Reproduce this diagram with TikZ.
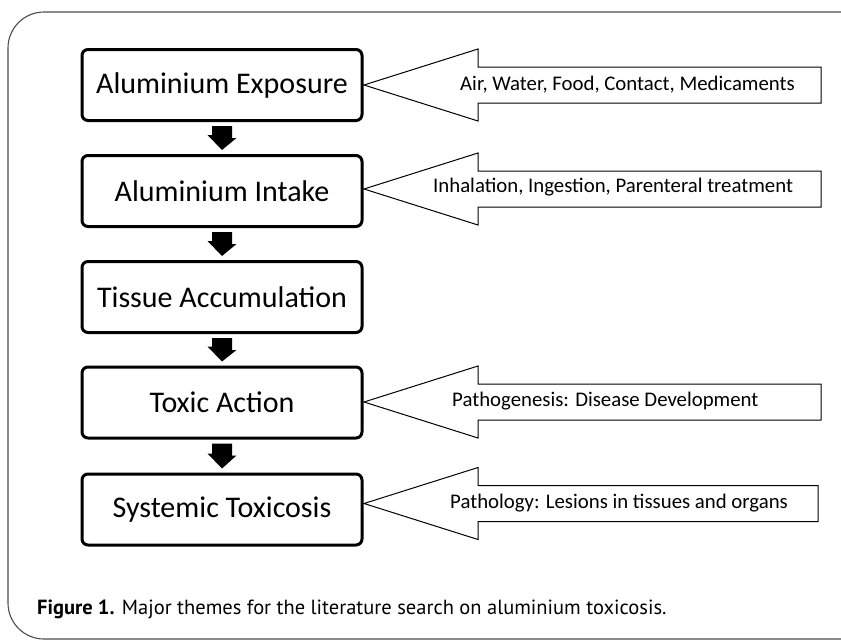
\documentclass[tikz,border=0pt]{standalone}
\usepackage{fontspec}
\setmainfont{Carlito}
\newfontfamily\capfont{PT Sans}
\begin{document}
\begin{tikzpicture}[x=1pt,y=-1pt,
  mainbox/.style={draw=black, line width=3pt, rounded corners=6pt, minimum width=280pt, minimum height=71pt, inner sep=0pt, font=\fontsize{30}{32}\selectfont, fill=white},
  sidearrow/.style={draw=black, line width=1pt, fill=white},
  sidelabel/.style={anchor=west, inner sep=0pt, font=\fontsize{20.8}{23}\selectfont},
  downarrow/.style={fill=black, draw=none},
  frame/.style={draw=black!70, line width=1.1pt, rounded corners=36pt}]
\useasboundingbox (0,0) rectangle (841,641);
\begin{scope}
\clip (0,0) rectangle (841,641);
\draw[frame] (8,12) rectangle (880,639);
\end{scope}

\node[mainbox] (b1) at (222,85) {Aluminium Exposure};
\node[mainbox] (b2) at (222,191) {Aluminium Intake};
\node[mainbox] (b3) at (222,297) {Tissue Accumulation};
\node[mainbox] (b4) at (222,402.5) {Toxic Action};
\node[mainbox] (b5) at (222,509.5) {Systemic Toxicosis};

% down block arrows
\foreach \a/\b in {b1/b2,b2/b3,b3/b4,b4/b5}{
  \fill[downarrow] ([yshift=-4pt]\a.south) ++(-10,0) -- ++(20,0) -- ++(0,12) -- ++(4.5,0)
    -- ([yshift=4pt]\b.north) -- ++(-14.5,-15) -- ++(4.5,0) -- cycle;
}

% side arrows
\coordinate (t1) at (364,85);
\coordinate (t2) at (364,189);
\coordinate (t4) at (364,402);
\coordinate (t5) at (364,503.5);
\draw[sidearrow] (t1) -- ++(114,-36) -- ++(0,18) -- ++(343,0) -- ++(0,36) -- ++(-343,0) -- ++(0,18) -- cycle;
\draw[sidearrow] (t2) -- ++(114,-36) -- ++(0,18) -- ++(343,0) -- ++(0,36) -- ++(-343,0) -- ++(0,18) -- cycle;
\draw[sidearrow] (t4) -- ++(114,-36) -- ++(0,18) -- ++(343,0) -- ++(0,36) -- ++(-343,0) -- ++(0,18) -- cycle;
\draw[sidearrow] (t5) -- ++(114,-36) -- ++(0,18) -- ++(340,0) -- ++(0,36) -- ++(-340,0) -- ++(0,18) -- cycle;

\node[sidelabel] (l1) at (460,85) {Air, Water, Food, Contact, Medicaments};
\node[sidelabel] (l2) at (433,187.5) {Inhalation, Ingestion, Parenteral treatment};
\node[sidelabel] (l4) at (452,401) {Pathogenesis: Disease Development};
\node[sidelabel] (l5) at (450,503) {Pathology: Lesions in tissues and organs};

\node[anchor=base west, inner sep=0pt, font=\capfont\fontsize{20.5}{23}\selectfont] (cap) at (37,614)
  {\textbf{Figure 1.} Major themes for the literature search on aluminium toxicosis.};
\end{tikzpicture}
\end{document}
